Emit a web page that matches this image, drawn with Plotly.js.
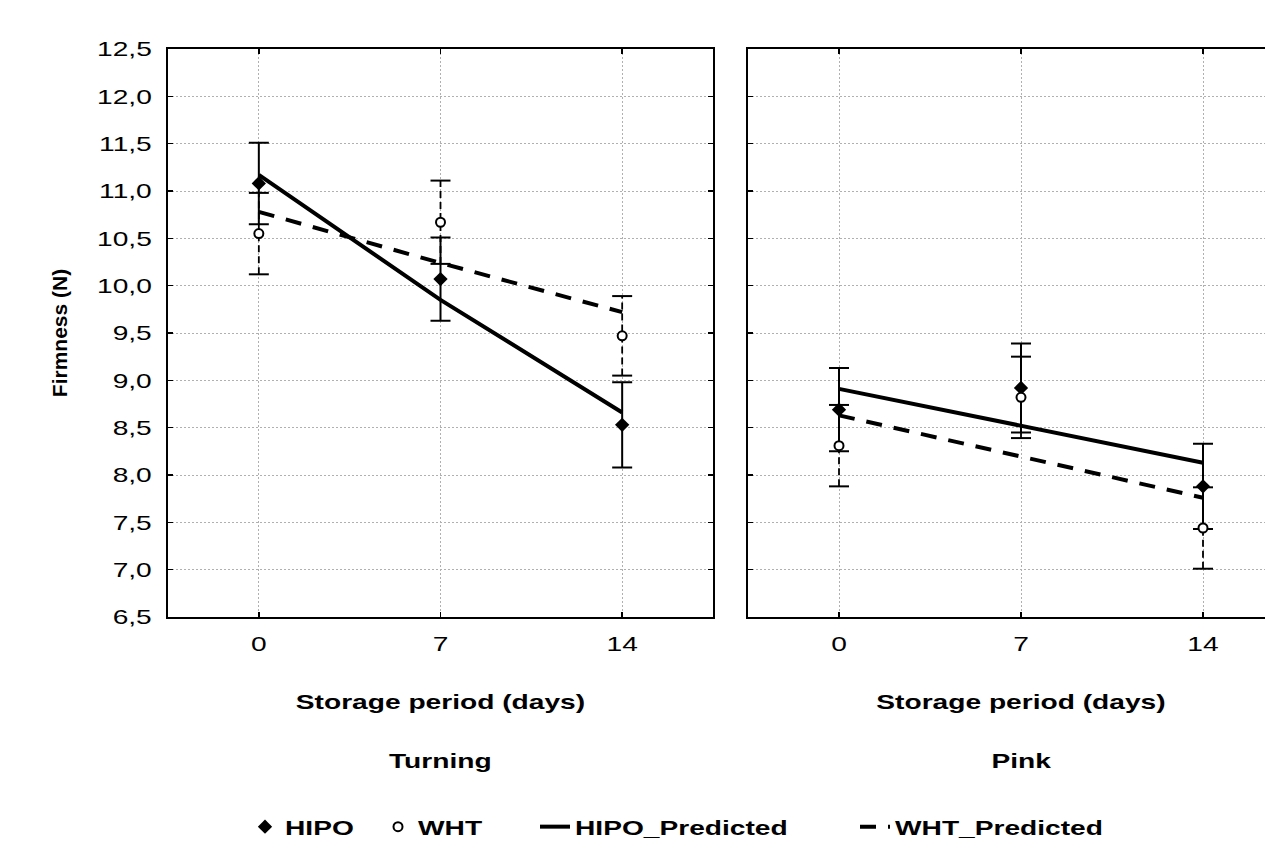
<!DOCTYPE html>
<html>
<head>
<meta charset="utf-8">
<script src="https://cdn.plot.ly/plotly-3.0.1.min.js"></script>
<style>
html, body { margin: 0; padding: 0; overflow: hidden; background: #fff; }
#chart { width: 1320px; height: 849px; }
</style>
</head>
<body>
<div id="chart"></div>
<script>
// ---- data ----
const days = [0, 7, 14];
const tickLabelsY = [6.5, 7.0, 7.5, 8.0, 8.5, 9.0, 9.5, 10.0, 10.5, 11.0, 11.5, 12.0, 12.5];

const turningHIPO = [11.08, 10.07, 8.53];
const turningHIPOErr = [0.43, 0.44, 0.45];
const turningWHT = [10.55, 10.67, 9.47];
const turningWHTErr = [0.43, 0.44, 0.42];
const turningHIPOPred = [11.17, 9.85, 8.66];
const turningWHTPred = [10.78, 10.24, 9.72];

const pinkHIPO = [8.69, 8.92, 7.88];
const pinkHIPOErr = [0.44, 0.47, 0.45];
const pinkWHT = [8.31, 8.82, 7.44];
const pinkWHTErr = [0.43, 0.43, 0.43];
const pinkHIPOPred = [8.91, 8.52, 8.13];
const pinkWHTPred = [8.63, 8.20, 7.76];

const panelTitles = ['Turning', 'Pink'];
const xTitle = 'Storage period (days)';
const yTitle = 'Firmness (N)';

// ---- helpers ----
const FONT = 'Liberation Sans, Arial, sans-serif';
const FS = 21;
const STRETCH = 1.34;                 // horizontal text stretch seen in the reference
const capHalfDays = 10 / (182 / 7);   // 10 px cap half width in x units

function whtErrTraces(xa, ya, vals, errs) {
  const vx = [], vy = [], cx = [], cy = [];
  days.forEach((d, i) => {
    vx.push(d, d, null); vy.push(vals[i] - errs[i], vals[i] + errs[i], null);
    [vals[i] - errs[i], vals[i] + errs[i]].forEach(v => {
      cx.push(d - capHalfDays, d + capHalfDays, null); cy.push(v, v, null);
    });
  });
  return [
    {x: vx, y: vy, xaxis: xa, yaxis: ya, mode: 'lines', showlegend: false, hoverinfo: 'skip',
     line: {color: '#000', width: 1.8, dash: '7px,4px'}},
    {x: cx, y: cy, xaxis: xa, yaxis: ya, mode: 'lines', showlegend: false, hoverinfo: 'skip',
     line: {color: '#000', width: 2}}
  ];
}

function panel(xa, ya, hipo, hipoErr, wht, whtErr, hipoPred, whtPred, showLeg) {
  return [
    ...whtErrTraces(xa, ya, wht, whtErr),
    {x: days, y: hipo, xaxis: xa, yaxis: ya, mode: 'markers', name: 'HIPO', legendgroup: 'h', showlegend: showLeg,
     marker: {symbol: 'diamond', size: 11, color: '#000'},
     error_y: {type: 'data', array: hipoErr, visible: true, color: '#000', thickness: 2, width: 10}},
    {x: days, y: wht, xaxis: xa, yaxis: ya, mode: 'markers', name: 'WHT', legendgroup: 'w', showlegend: showLeg,
     marker: {symbol: 'circle', size: 9, color: '#fff', line: {color: '#000', width: 2}}},
    {x: days, y: hipoPred, xaxis: xa, yaxis: ya, mode: 'lines', name: 'HIPO_Predicted', legendgroup: 'hp', showlegend: showLeg,
     line: {color: '#000', width: 4}},
    {x: days, y: whtPred, xaxis: xa, yaxis: ya, mode: 'lines', name: 'WHT_Predicted', legendgroup: 'wp', showlegend: showLeg,
     line: {color: '#000', width: 4, dash: '16px,12px'}}
  ];
}

const data = [
  ...panel('x', 'y', turningHIPO, turningHIPOErr, turningWHT, turningWHTErr, turningHIPOPred, turningWHTPred, true),
  ...panel('x2', 'y2', pinkHIPO, pinkHIPOErr, pinkWHT, pinkWHTErr, pinkHIPOPred, pinkWHTPred, false)
];

const W = 1320, H = 849;
const L = 168, R = W - 1294, T = 49, B = H - 617;
const plotW = W - L - R, plotH = H - T - B;

const xBase = {
  range: [-3.5, 17.5], tickvals: days, ticktext: days.map(String),
  showgrid: true, gridcolor: '#b0b0b0', griddash: '2px,2px', gridwidth: 1,
  zeroline: false, showline: true, linecolor: '#000', linewidth: 2, mirror: 'ticks',
  ticks: 'inside', ticklen: 5, tickwidth: 1.5, tickcolor: '#000', ticklabelstandoff: 7,
  tickfont: {family: FONT, size: FS, color: '#000'}, automargin: false,
  title: {text: xTitle, font: {family: FONT, size: FS, color: '#000', weight: 'bold'}, standoff: 40},
  fixedrange: true
};
const yBase = {
  range: [6.5, 12.5], tickvals: tickLabelsY, tickformat: '.1f',
  showgrid: true, gridcolor: '#b0b0b0', griddash: '2px,2px', gridwidth: 1,
  zeroline: false, showline: true, linecolor: '#000', linewidth: 2, mirror: 'ticks',
  ticks: 'inside', ticklen: 5, tickwidth: 1.5, tickcolor: '#000', automargin: false,
  tickfont: {family: FONT, size: FS, color: '#000'},
  fixedrange: true
};

const layout = {
  width: W, height: H,
  margin: {l: L, r: R, t: T, b: B, autoexpand: false},
  paper_bgcolor: '#fff', plot_bgcolor: '#fff',
  separators: ',.',
  showlegend: true,
  xaxis: Object.assign({}, xBase, {domain: [0, (713 - L) / plotW], anchor: 'y'}),
  xaxis2: Object.assign({}, xBase, {domain: [(748 - L) / plotW, 1], anchor: 'y2'}),
  yaxis: Object.assign({}, yBase, {anchor: 'x', ticklabelstandoff: 10,
    title: {text: yTitle, font: {family: FONT, size: FS, color: '#000', weight: 'bold'}, standoff: 38}}),
  yaxis2: Object.assign({}, yBase, {anchor: 'x2', matches: 'y', showticklabels: false}),
  legend: {orientation: 'h', xref: 'container', x: 225 / W, xanchor: 'left',
    yref: 'container', y: 1 - 827 / H, yanchor: 'middle',
    font: {family: FONT, size: 21, color: '#000', weight: 'bold'}, bgcolor: 'rgba(0,0,0,0)'},
  annotations: panelTitles.map((t, i) => ({
    text: t, xref: i === 0 ? 'x domain' : 'x2 domain', x: 0.5, yref: 'paper', y: (617 - 760) / plotH,
    xanchor: 'center', yanchor: 'middle', showarrow: false,
    font: {family: FONT, size: FS, color: '#000', weight: 'bold'}
  }))
};

const legendTextStarts = [285, 418, 575, 895];

Plotly.newPlot('chart', data, layout, {displayModeBar: false, responsive: false, staticPlot: true}).then(gd => {
  // stretch horizontal text to the reference's wide letterforms
  gd.querySelectorAll('svg text').forEach(t => {
    if (t.classList.contains('ytitle')) return;
    const len = t.getComputedTextLength();
    if (!len) return;
    t.setAttribute('textLength', (len * STRETCH).toFixed(2));
    t.setAttribute('lengthAdjust', 'spacingAndGlyphs');
  });
  // legend: no clipping, and spread the items as in the reference
  gd.querySelectorAll('.legend .scrollbox').forEach(s => s.removeAttribute('clip-path'));
  gd.querySelectorAll('.legend g.traces').forEach((g, i) => {
    const txt = g.querySelector('text.legendtext');
    if (!txt || legendTextStarts[i] === undefined) return;
    const r = txt.getBoundingClientRect();
    const dx = legendTextStarts[i] - r.left;
    const m = /translate\(\s*([-\d.e]+)[ ,]+([-\d.e]+)\s*\)/.exec(g.getAttribute('transform') || '');
    const tx = m ? parseFloat(m[1]) : 0, ty = m ? parseFloat(m[2]) : 0;
    g.setAttribute('transform', 'translate(' + (tx + dx) + ',' + ty + ')');
  });
});
</script>
</body>
</html>
